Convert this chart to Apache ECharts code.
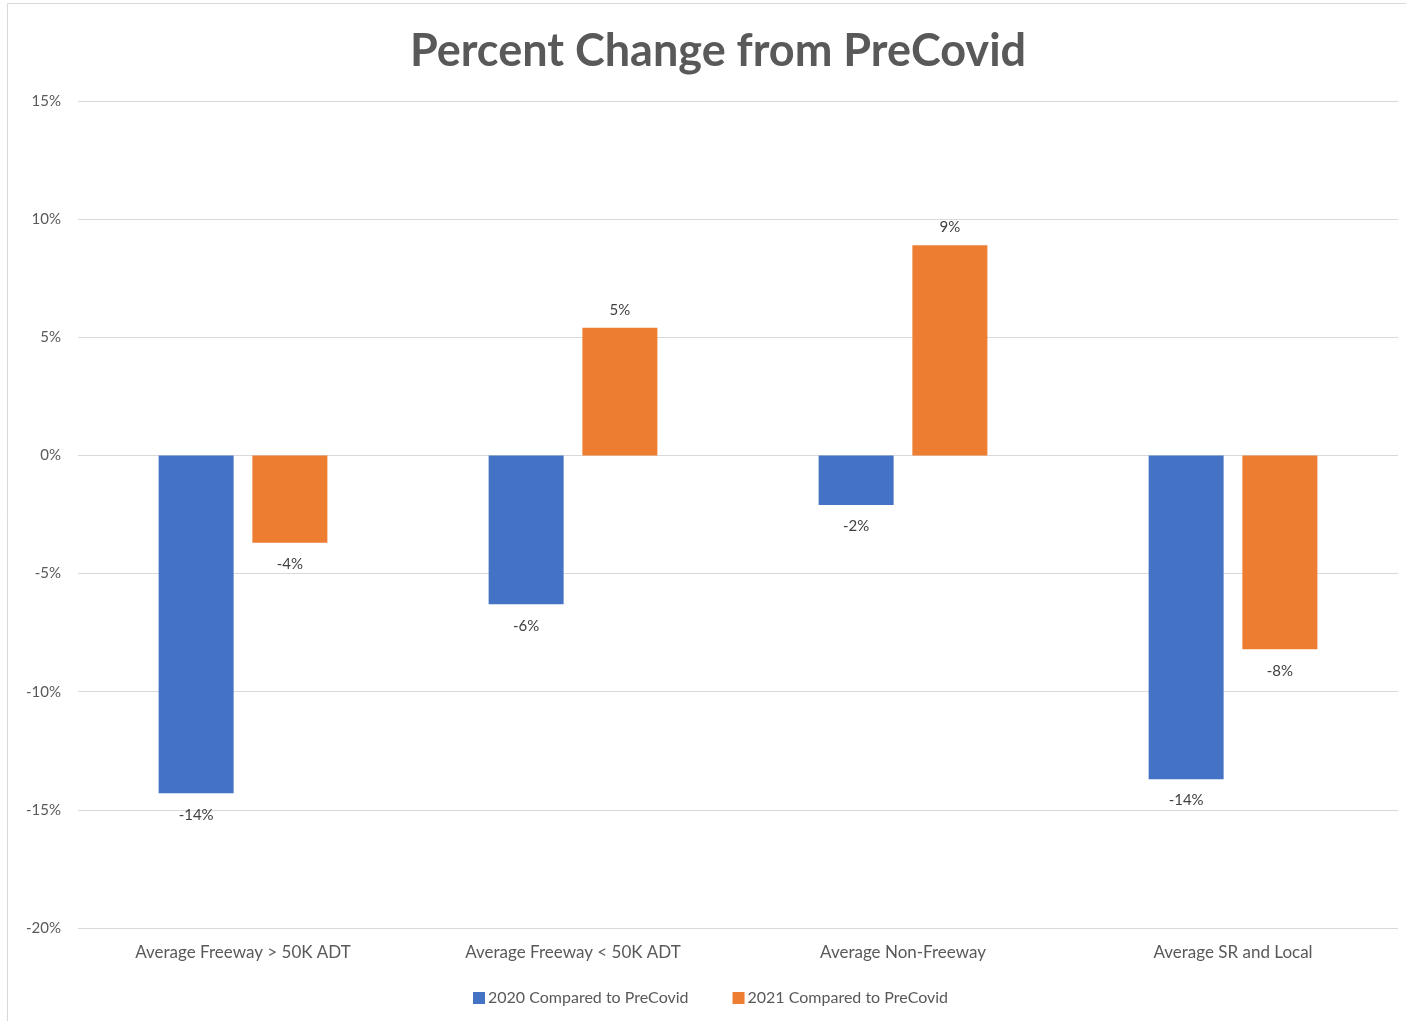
<!DOCTYPE html>
<html>
<head>
<meta charset="utf-8">
<script src="https://cdn.jsdelivr.net/npm/echarts@6/dist/echarts.min.js"></script>
<style>
html,body{margin:0;padding:0;background:#fff;}
#chart{width:1406px;height:1021px;}
</style>
</head>
<body>
<div id="chart"></div>
<script>
const categories = ["Average Freeway > 50K ADT", "Average Freeway < 50K ADT", "Average Non-Freeway", "Average SR and Local"];
const seriesNames = ["2020 Compared to PreCovid", "2021 Compared to PreCovid"];
const values2020 = [-14.3, -6.3, -2.1, -13.7];
const values2021 = [-3.7, 5.4, 8.9, -8.2];
const colors = ["#4472C4", "#ED7D31"];
const FONT = "Lato, 'Open Sans', sans-serif";

function toItems(arr) {
  return arr.map(v => ({ value: v, label: v < 0 ? { position: 'bottom', distance: 14 } : { position: 'top', distance: 10 } }));
}

const chart = echarts.init(document.getElementById('chart'));
const labelCfg = {
  show: true,
  color: '#404040',
  fontSize: 15,
  fontFamily: FONT,
  formatter: p => Math.round(p.value) + '%'
};

chart.setOption({
  backgroundColor: '#ffffff',
  animation: false,
  title: {
    text: 'Percent Change from PreCovid',
    left: 713,
    textAlign: 'center',
    top: 24,
    textStyle: { fontSize: 45, fontWeight: 'bold', color: '#595959', fontFamily: FONT }
  },
  graphic: [{
    type: 'rect',
    shape: { x: 7.5, y: 3.5, width: 1420, height: 1040 },
    style: { fill: 'none', stroke: '#d9d9d9', lineWidth: 1 },
    silent: true, z: -1
  }],
  legend: {
    data: seriesNames,
    left: 468,
    top: 985,
    icon: 'rect',
    itemWidth: 12,
    itemHeight: 12,
    itemGap: 44,
    textStyle: { fontSize: 16, color: '#595959', fontFamily: FONT, padding: [0, 0, 0, -2] }
  },
  grid: { left: 78, right: 8, top: 101, bottom: 93, containLabel: false },
  xAxis: {
    type: 'category',
    data: categories,
    axisLine: { show: false, onZero: false },
    axisTick: { show: false },
    axisLabel: { margin: 16, fontSize: 17, color: '#595959', fontFamily: FONT, interval: 0 }
  },
  yAxis: {
    type: 'value',
    min: -20,
    max: 15,
    interval: 5,
    axisLine: { show: false },
    axisTick: { show: false },
    splitLine: { lineStyle: { color: '#d9d9d9', width: 1 } },
    axisLabel: { margin: 17, fontSize: 15, color: '#595959', fontFamily: FONT, formatter: v => v + '%' }
  },
  series: [
    { name: seriesNames[0], type: 'bar', data: toItems(values2020), itemStyle: { color: colors[0] }, barWidth: 75, barGap: '25%', label: labelCfg },
    { name: seriesNames[1], type: 'bar', data: toItems(values2021), itemStyle: { color: colors[1] }, barWidth: 75, barGap: '25%', label: labelCfg }
  ]
});
</script>
</body>
</html>
